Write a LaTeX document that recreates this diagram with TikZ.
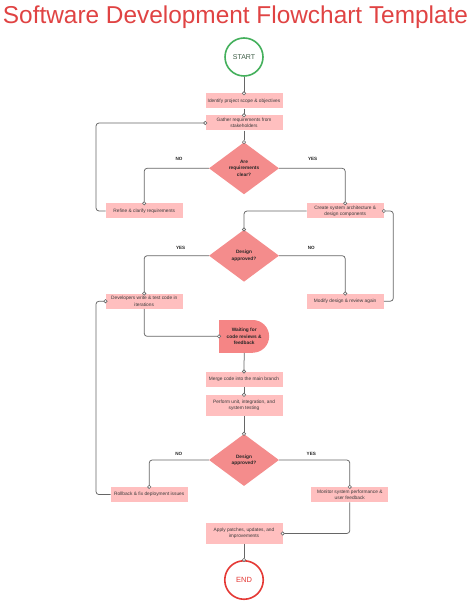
\documentclass[tikz,border=0pt]{standalone}
\usepackage{fontspec}
\setmainfont{Liberation Sans}
\usetikzlibrary{arrows.meta,shapes.geometric}
\definecolor{boxpink}{HTML}{FFBFBF}
\definecolor{diapink}{HTML}{F48C8C}
\definecolor{waitpink}{HTML}{F58585}
\definecolor{linegray}{HTML}{666666}
\definecolor{startgreen}{HTML}{44B05C}
\definecolor{startText}{HTML}{3F5E47}
\definecolor{endred}{HTML}{E53935}
\definecolor{titlered}{HTML}{E04343}
\definecolor{txtgray}{HTML}{3A3A3A}
\tikzset{
  pbox/.style={rectangle, fill=boxpink, minimum width=77pt, minimum height=15pt, inner sep=0pt,
    align=center, text=txtgray, font=\fontsize{4.8}{6.4}\selectfont},
  dia/.style={diamond, fill=diapink, minimum width=70pt, minimum height=52pt, inner sep=0pt,
    align=center, text=black!85, font=\bfseries\fontsize{4.8}{6.3}\selectfont},
  conn/.style={draw=linegray, line width=0.75pt, rounded corners=3pt,
    -{Circle[length=3.9pt, fill=white, line width=0.6pt]}, shorten >=-1.95pt},
  lbl/.style={font=\bfseries\fontsize{4.6}{5}\selectfont, text=black!85, inner sep=0pt},
  term/.style={circle, draw, line width=1.6pt, fill=white, inner sep=0pt},
}
\begin{document}
\begin{tikzpicture}[x=1pt,y=-1pt]
\useasboundingbox (0,0) rectangle (474,601);
\fill[white] (0,0) rectangle (474,601);
\node[anchor=base, text=titlered, font=\fontsize{24.4}{28}\selectfont, inner sep=0pt] (title) at (235.5,23.5) {Software Development Flowchart Template};

\node[term, draw=startgreen, minimum size=38pt, text=startText, font=\fontsize{7}{8}\selectfont] (start) at (244,57) {START};
\node[pbox] (b1) at (244,101) {Identify project scope \& objectives};
\node[pbox] (b2) at (244,123) {Gather requirements from\\stakeholders};
\node[dia] (d1) at (244,168.3) {Are\\requirements\\clear?};
\node[pbox] (refine) at (144.2,211) {Refine \& clarify requirements};
\node[pbox] (create) at (345.2,211) {Create system architecture \&\\design components};
\node[dia] (d2) at (244,255.7) {Design\\approved?};
\node[pbox] (dev) at (144.2,301.2) {Developers write \& test code in\\iterations};
\node[pbox] (modify) at (345.2,301.2) {Modify design \& review again};

\fill[waitpink] (219.3,320) rectangle (252.8,352.7);
\fill[waitpink] (252.8,336.35) circle (16.35pt);
\node[rectangle, minimum width=49.9pt, minimum height=32.7pt, inner sep=0pt, align=center,
  text=black!85, font=\bfseries\fontsize{4.8}{6.3}\selectfont] (wait) at (244.2,336.35) {Waiting for\\code reviews \&\\feedback};

\node[pbox] (merge) at (244,379.2) {Merge code into the main branch};
\node[pbox, minimum height=21pt] (perf) at (244,405.5) {Perform unit, integration, and\\system testing};
\node[dia] (d3) at (244,460) {Design\\approved?};
\node[pbox] (roll) at (149.2,494.6) {Rollback \& fix deployment issues};
\node[pbox] (mon) at (349.8,494.6) {Monitor system performance \&\\user feedback};
\node[pbox, minimum height=20.4pt] (apply) at (244,533.5) {Apply patches, updates, and\\improvements};
\node[term, draw=endred, minimum size=38.5pt, text=endred, font=\fontsize{7.5}{8}\selectfont] (end) at (244,580) {END};

\coordinate (L1) at (96,123);
\coordinate (R1) at (393.3,211);
\coordinate (L2) at (96,301.2);

\draw[conn] (start.south) -- (b1.north);
\draw[conn] (b1.south) -- (b2.north);
\draw[conn] (b2.south) -- (d1.north);
\draw[conn] (d1.west) -| (refine.north);
\draw[conn] (d1.east) -| (create.north);
\draw[conn] (refine.west) -| (L1) -- (b2.west);
\draw[conn] (create.west) -| (d2.north);
\draw[conn] (modify.east) -| (R1) -- (create.east);
\draw[conn] (d2.west) -| (dev.north);
\draw[conn] (d2.east) -| (modify.north);
\draw[conn] (dev.south) |- (wait.west);
\draw[conn] (wait.south) -- (merge.north);
\draw[conn] (merge.south) -- (perf.north);
\draw[conn] (perf.south) -- (d3.north);
\draw[conn] (d3.west) -| (roll.north);
\draw[conn] (d3.east) -| (mon.north);
\draw[conn] (roll.west) -| (L2) -- (dev.west);
\draw[conn] (mon.south) |- (apply.east);
\draw[conn] (apply.south) -- (end.north);

\node[lbl] (no1) at (179,158.5) {NO};
\node[lbl] (yes1) at (312.7,158.5) {YES};
\node[lbl] (yes2) at (180.7,248) {YES};
\node[lbl] (no2) at (311.3,248) {NO};
\node[lbl] (no3) at (178.7,454) {NO};
\node[lbl] (yes3) at (311.3,454) {YES};
\end{tikzpicture}
\end{document}
